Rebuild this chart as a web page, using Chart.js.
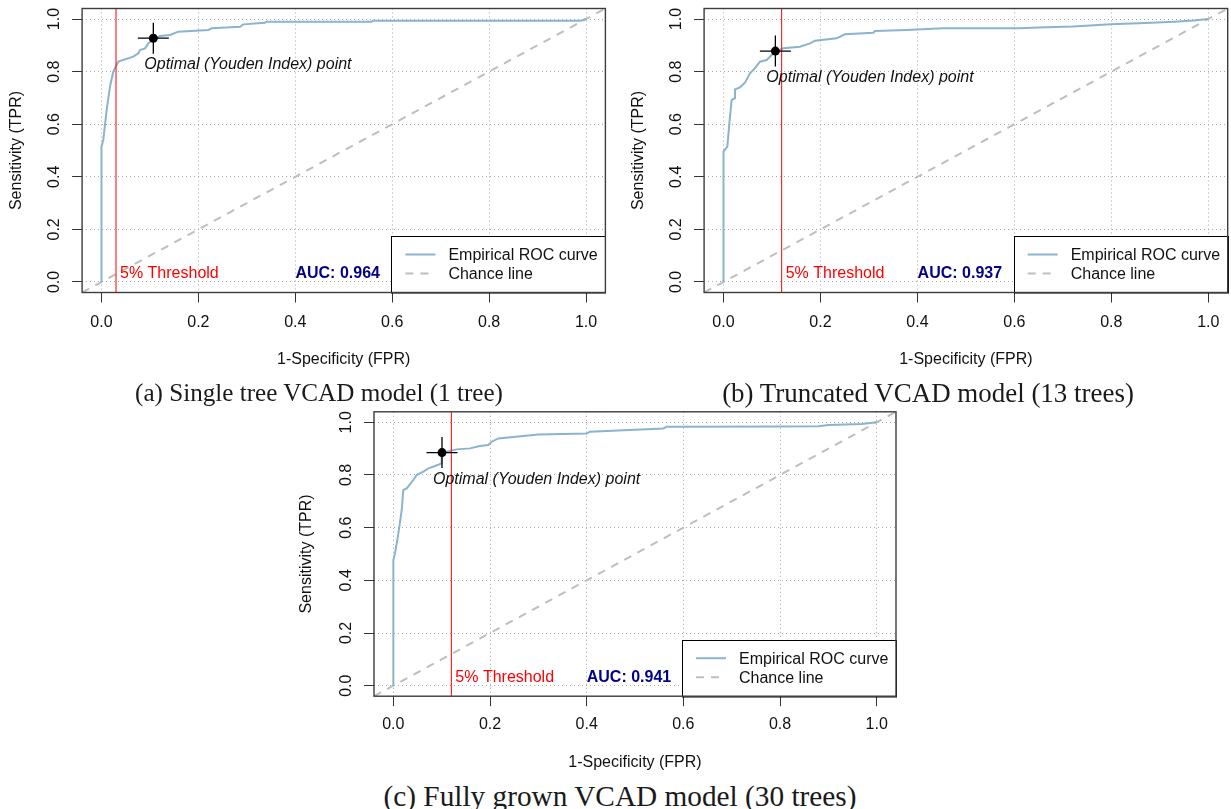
<!DOCTYPE html>
<html><head><meta charset="utf-8">
<script src="https://cdn.jsdelivr.net/npm/chart.js@4.4.1/dist/chart.umd.min.js"></script>
<style>
html,body{margin:0;padding:0;background:#fff;}
body{width:1231px;height:809px;overflow:hidden;position:relative;}
.wrap{position:absolute;}
.wrap canvas{display:block;}
.cap{position:absolute;font-family:"Liberation Serif","DejaVu Serif",serif;color:#1a1a1a;white-space:nowrap;transform:translate(-50%,-50%);font-size:21px;line-height:1;}
</style></head>
<body>
<div class="wrap" style="left:0;top:0;"><canvas id="ca" width="615" height="380"></canvas></div>
<div class="wrap" style="left:615px;top:0;"><canvas id="cb" width="616" height="380"></canvas></div>
<div class="wrap" style="left:290px;top:400px;"><canvas id="cc" width="620" height="380"></canvas></div>
<div class="cap" id="capA" style="left:319px;top:393px;"></div>
<div class="cap" id="capB" style="left:928px;top:393px;"></div>
<div class="cap" id="capC" style="left:620px;top:797px;"></div>
<script>
// ---------- data ----------
const axisRange = [-0.04, 1.04];
const xTickValues = [0, 0.2, 0.4, 0.6, 0.8, 1.0];
const xTickLabels = ['0.0', '0.2', '0.4', '0.6', '0.8', '1.0'];
const yTickValues = [0, 0.2, 0.4, 0.6, 0.8, 1.0];
const yTickLabels = ['0.0', '0.2', '0.4', '0.6', '0.8', '1.0'];
const xTitle = '1-Specificity (FPR)';
const yTitle = 'Sensitivity (TPR)';
const rocLabel = 'Empirical ROC curve';
const chanceLabel = 'Chance line';
const thresholdLabel = '5% Threshold';
const optimalLabel = 'Optimal (Youden Index) point';
const captions = ['(a) Single tree VCAD model (1 tree)', '(b) Truncated VCAD model (13 trees)', '(c) Fully grown VCAD model (30 trees)'];
const aucValues = ['0.964', '0.937', '0.941'];
const thresholdFpr = [0.03, 0.12, 0.12];
const optimalFpr = [0.107, 0.107, 0.1007];
const optimalTpr = [0.927, 0.878, 0.885];
const chanceX = [-0.04, 1.04];
const chanceY = [-0.04, 1.04];

const fprA = [0, 0, 0.0037, 0.0107, 0.0175, 0.0244, 0.0347, 0.0657, 0.076, 0.0795, 0.0898, 0.0967, 0.107, 0.1207, 0.1414, 0.1586, 0.2205, 0.2274, 0.2859, 0.2927, 0.3375, 0.3409, 0.5576, 0.561, 0.99, 1.0];
const tprA = [0, 0.5146, 0.54, 0.654, 0.7427, 0.7997, 0.8378, 0.8568, 0.8694, 0.8821, 0.8885, 0.9075, 0.9227, 0.9354, 0.9392, 0.9518, 0.9582, 0.9645, 0.9708, 0.9797, 0.986, 0.9899, 0.9899, 0.9937, 0.9937, 1.0];

const fprB = [0, 0, 0.0052, 0.0079, 0.0134, 0.0168, 0.0223, 0.0237, 0.034, 0.0443, 0.0546, 0.0615, 0.0753, 0.089, 0.0993, 0.1069, 0.1234, 0.1577, 0.1784, 0.1887, 0.2333, 0.2505, 0.3089, 0.3124, 0.3777, 0.4533, 0.6113, 0.65, 0.72, 0.8, 0.87, 0.93, 0.97, 1.0];
const tprB = [0, 0.4956, 0.5082, 0.5146, 0.6286, 0.692, 0.6984, 0.7326, 0.7402, 0.7579, 0.7934, 0.8061, 0.8378, 0.8441, 0.8631, 0.8758, 0.8885, 0.8948, 0.9075, 0.9177, 0.9265, 0.9417, 0.948, 0.9544, 0.9582, 0.9645, 0.9645, 0.968, 0.972, 0.98, 0.985, 0.99, 0.994, 1.0];

const fprC = [0, 0, 0.0035, 0.0104, 0.0173, 0.0207, 0.0276, 0.0414, 0.0483, 0.0621, 0.0724, 0.0862, 0.1, 0.1, 0.1103, 0.131, 0.1586, 0.1793, 0.1965, 0.2034, 0.2172, 0.3, 0.4, 0.4068, 0.5585, 0.5654, 0.593, 0.8, 0.88, 0.9, 0.97, 1.0];
const tprC = [0, 0.4772, 0.5025, 0.5783, 0.667, 0.743, 0.7493, 0.7809, 0.7999, 0.8125, 0.8252, 0.834, 0.8442, 0.8821, 0.8884, 0.8973, 0.9011, 0.91, 0.9137, 0.9264, 0.939, 0.9542, 0.958, 0.9644, 0.977, 0.9833, 0.9833, 0.984, 0.985, 0.99, 0.994, 1.0];

// ---------- styles ----------
const FONT = '"Liberation Sans", Arial, Helvetica, sans-serif';
const ROC_COLOR = '#8ab4ce';
const CHANCE_COLOR = '#bebebe';
const TEXT_COLOR = '#111';

function pts(xs, ys) { return xs.map((x, i) => ({x: x, y: ys[i]})); }

const annotatePlugin = {
  id: 'annot',
  afterDraw(chart, args, o) {
    const {ctx, chartArea: a, scales: {x, y}} = chart;
    const ds = chart.data.datasets;
    ctx.save();
    ctx.font = '16px ' + FONT;
    ctx.fillStyle = TEXT_COLOR;
    ctx.textAlign = 'center';
    ctx.textBaseline = 'middle';
    y.ticks.forEach((t, i) => {
      const py = y.getPixelForValue(t.value);
      ctx.save();
      ctx.translate(a.left - 27.3, py);
      ctx.rotate(-Math.PI / 2);
      ctx.fillText(yTickLabels[i], 0, 0);
      ctx.restore();
    });
    const ty = y.getPixelForValue(0.03);
    ctx.fillStyle = '#ff0000';
    ctx.textAlign = 'left';
    ctx.fillText(thresholdLabel, x.getPixelForValue(o.threshold) + 4, ty);
    ctx.font = 'bold 16px ' + FONT;
    ctx.fillStyle = '#00008b';
    ctx.textAlign = 'center';
    ctx.fillText('AUC: ' + o.auc, x.getPixelForValue(0.4875), ty);
    ctx.font = 'italic 16px ' + FONT;
    ctx.fillStyle = TEXT_COLOR;
    ctx.textAlign = 'left';
    ctx.fillText(optimalLabel, x.getPixelForValue(o.optX) - 9, y.getPixelForValue(o.optY) + 26.5);
    const lw = 214, lh = 56.5;
    const lx = a.right - lw, ly = a.bottom - lh;
    ctx.fillStyle = '#fff';
    ctx.fillRect(lx, ly, lw, lh);
    ctx.strokeStyle = '#000';
    ctx.lineWidth = 1;
    ctx.strokeRect(Math.round(lx) + 0.5, Math.round(ly) + 0.5, lw, lh);
    const items = [ds[3], ds[4]];
    items.forEach((d, i) => {
      const yy = ly + 18.5 + i * 19;
      ctx.strokeStyle = d.borderColor;
      ctx.lineWidth = d.borderWidth;
      ctx.setLineDash(d.borderDash || []);
      ctx.beginPath();
      ctx.moveTo(lx + 14, yy);
      ctx.lineTo(lx + 44, yy);
      ctx.stroke();
      ctx.setLineDash([]);
      ctx.font = '16px ' + FONT;
      ctx.fillStyle = TEXT_COLOR;
      ctx.textAlign = 'left';
      ctx.textBaseline = 'middle';
      ctx.fillText(d.label, lx + 57, yy + 1.2);
    });
    ctx.strokeStyle = '#3c3c3c';
    ctx.lineWidth = 1.4;
    ctx.strokeRect(a.left, a.top, a.right - a.left, a.bottom - a.top);
    ctx.restore();
  }
};

function zeroPad(s) { s.paddingLeft = 0; s.paddingRight = 0; s.paddingTop = 0; s.paddingBottom = 0; }

function makeChart(id, k, L) {
  const roc = [pts(fprA, tprA), pts(fprB, tprB), pts(fprC, tprC)][k];
  const t = thresholdFpr[k];
  return new Chart(document.getElementById(id), {
    type: 'line',
    data: {
      datasets: [
        {label: 'optDot', data: [{x: optimalFpr[k], y: optimalTpr[k]}], showLine: false, pointRadius: 4.5, pointBackgroundColor: '#000', pointBorderColor: '#000', pointBorderWidth: 0},
        {label: 'optCross', data: [{x: optimalFpr[k], y: optimalTpr[k]}], showLine: false, pointStyle: 'cross', pointRadius: 15.5, pointBorderColor: '#000', pointBorderWidth: 1.3},
        {label: thresholdLabel, data: [{x: t, y: axisRange[0]}, {x: t, y: axisRange[1]}], borderColor: '#ff0000', borderWidth: 1, pointRadius: 0},
        {label: rocLabel, data: roc, borderColor: ROC_COLOR, borderWidth: 2, pointRadius: 0, tension: 0},
        {label: chanceLabel, data: pts(chanceX, chanceY), borderColor: CHANCE_COLOR, borderWidth: 2, borderDash: [8, 7], pointRadius: 0}
      ]
    },
    options: {
      responsive: false, animation: false, devicePixelRatio: 1, events: [],
      layout: {autoPadding: false, padding: {left: 0, right: L.pr, top: L.pt, bottom: 0}},
      plugins: {legend: {display: false}, tooltip: {enabled: false},
        annot: {threshold: t, auc: aucValues[k], optX: optimalFpr[k], optY: optimalTpr[k]}},
      scales: {
        x: {
          type: 'linear', min: axisRange[0], max: axisRange[1],
          afterBuildTicks: (s) => { s.ticks = xTickValues.map(v => ({value: v})); },
          afterFit: (s) => { s.height = L.xh; zeroPad(s); },
          ticks: {autoSkip: false, maxRotation: 0, minRotation: 0, padding: L.xtp, color: TEXT_COLOR,
            font: {family: FONT, size: 16}, callback: (v, i) => xTickLabels[i]},
          grid: {color: '#a8a8a8', lineWidth: 1, drawTicks: true, tickLength: 10, tickColor: '#333', tickWidth: 1, tickBorderDash: []},
          border: {display: false, dash: [1, 3]},
          title: {display: true, text: xTitle, color: TEXT_COLOR, font: {family: FONT, size: 16}, padding: {top: 0, bottom: L.xtb}}
        },
        y: {
          type: 'linear', min: axisRange[0], max: axisRange[1],
          afterBuildTicks: (s) => { s.ticks = yTickValues.map(v => ({value: v})); },
          afterFit: (s) => { s.width = L.yw; zeroPad(s); },
          ticks: {display: false},
          grid: {color: '#a8a8a8', lineWidth: 1, drawTicks: true, tickLength: 10, tickColor: '#333', tickWidth: 1, tickBorderDash: []},
          border: {display: false, dash: [1, 3]},
          title: {display: true, text: yTitle, color: TEXT_COLOR, font: {family: FONT, size: 16}, padding: {top: L.ytp, bottom: 0}}
        }
      }
    },
    plugins: [annotatePlugin]
  });
}

makeChart('ca', 0, {pr: 9.6, pt: 8.5, xh: 87.5, yw: 82.1, xtp: 10.6, xtb: 10.4, ytp: 7.4});
makeChart('cb', 1, {pr: 3.3, pt: 8.5, xh: 87.5, yw: 89.1, xtp: 10.6, xtb: 10.4, ytp: 13.7});
makeChart('cc', 2, {pr: 14, pt: 11.8, xh: 83.8, yw: 84, xtp: 9.2, xtb: 7.4, ytp: 7.1});

const capTargets = [368, 412, 473];
['capA', 'capB', 'capC'].forEach((id, i) => {
  const el = document.getElementById(id);
  el.textContent = captions[i];
  const w = el.getBoundingClientRect().width;
  el.style.fontSize = (21 * capTargets[i] / w).toFixed(2) + 'px';
});
</script>
</body></html>
